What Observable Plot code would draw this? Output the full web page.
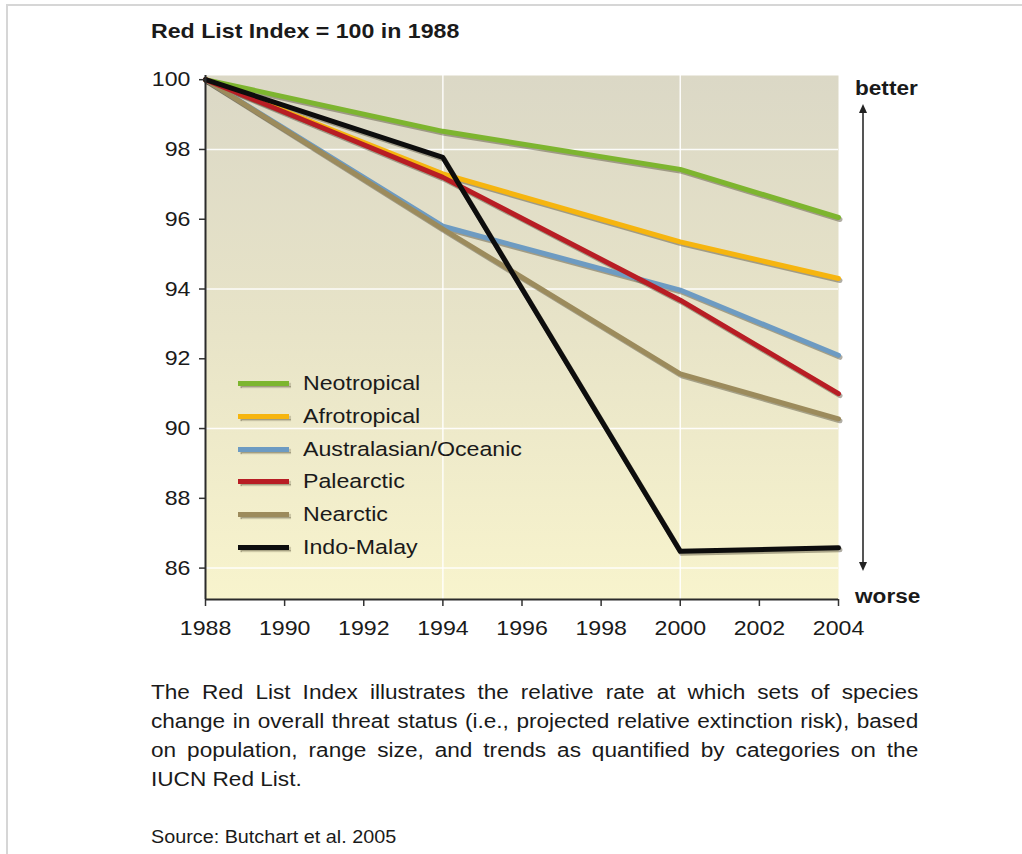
<!DOCTYPE html>
<html>
<head>
<meta charset="utf-8">
<script src="https://cdn.jsdelivr.net/npm/d3@7"></script>
<script src="https://cdn.jsdelivr.net/npm/@observablehq/plot@0.6"></script>
<style>
  body { margin: 0; background: #fff; font-family: "Liberation Sans", Arial, Helvetica, sans-serif; color: #1a1a1a; }
  #page { position: relative; width: 1022px; height: 854px; overflow: hidden; background: #fff; }
  #frame { position: absolute; left: 6px; top: 4px; right: -10px; bottom: -10px; border-left: 2px solid #d6d6d6; border-top: 2px solid #d6d6d6; }
  #chart { position: absolute; left: 0; top: 0; }
  .abs { position: absolute; white-space: nowrap; }
  .sx { display: inline-block; transform: scaleX(1.13); transform-origin: 0 50%; }
  #title { left: 151px; top: 21px; font-size: 20.5px; line-height: 20px; font-weight: bold; }
  .legrow { position: absolute; left: 238px; height: 20px; }
  .legsw { position: absolute; left: 0; top: 8px; width: 51px; height: 5px; box-shadow: 1.5px 2px 1px rgba(70,65,40,0.45); }
  .legtx { position: absolute; left: 65px; top: 0; font-size: 20.5px; line-height: 20px; white-space: nowrap; }
  .dir { font-size: 20px; line-height: 20px; font-weight: bold; }
  #arrowline { position: absolute; left: 862px; top: 110px; width: 1.5px; height: 456px; background: #555; }
  #ahup { position: absolute; left: 859px; top: 104px; width: 0; height: 0; border-left: 4px solid transparent; border-right: 4px solid transparent; border-bottom: 9px solid #222; }
  #ahdn { position: absolute; left: 859px; top: 562px; width: 0; height: 0; border-left: 4px solid transparent; border-right: 4px solid transparent; border-top: 9px solid #222; }
  #caption { position: absolute; left: 151px; top: 678px; width: 679px; transform: scaleX(1.13); transform-origin: 0 0; font-size: 20px; line-height: 29px; }
  #caption .j { text-align: justify; text-align-last: justify; }
  #source { left: 151px; top: 828px; font-size: 17.5px; line-height: 18px; }
</style>
</head>
<body>
<div id="page">
  <div id="frame"></div>
  <div id="chart"></div>
  <div id="title" class="abs"><span class="sx">Red List Index = 100 in 1988</span></div>
  <div id="legend"></div>
  <div class="abs dir" style="left:855px; top:78px;"><span class="sx">better</span></div>
  <div class="abs dir" style="left:855px; top:586px;"><span class="sx">worse</span></div>
  <div id="arrowline"></div>
  <div id="ahup"></div>
  <div id="ahdn"></div>
  <div id="caption">
    <div class="j">The Red List Index illustrates the relative rate at which sets of species</div>
    <div class="j">change in overall threat status (i.e., projected relative extinction risk), based</div>
    <div class="j">on population, range size, and trends as quantified by categories on the</div>
    <div>IUCN Red List.</div>
  </div>
  <div id="source" class="abs"><span class="sx">Source: Butchart et al. 2005</span></div>
</div>
<script>
// ---- data ----
const years = [1988, 1994, 2000, 2004];
const regions = ["Neotropical", "Afrotropical", "Australasian/Oceanic", "Palearctic", "Nearctic", "Indo-Malay"];
const colors = ["#7db52f", "#f6b50f", "#6d9bc2", "#b81d24", "#9c8b5c", "#0d0d0d"];
const neotropical = [100, 98.52, 97.43, 96.05];
const afrotropical = [100, 97.3, 95.35, 94.3];
const australasian = [100, 95.8, 93.97, 92.1];
const palearctic = [100, 97.2, 93.68, 91.0];
const nearctic = [100, 95.72, 91.57, 90.28];
const indoMalay = [100, 97.77, 86.48, 86.58];
const seriesValues = [neotropical, afrotropical, australasian, palearctic, nearctic, indoMalay];
const drawOrder = ["Neotropical", "Afrotropical", "Australasian/Oceanic", "Nearctic", "Palearctic", "Indo-Malay"];
const xTicks = [1988, 1990, 1992, 1994, 1996, 1998, 2000, 2002, 2004];
const yTicks = [86, 88, 90, 92, 94, 96, 98, 100];
const gridX = [1994, 2000];
const gridY = [98, 94, 90, 86];
const yDomain = [85.1, 100.12];
const xDomain = [1988, 2004];

const data = drawOrder.flatMap(r => {
  const i = regions.indexOf(r);
  return years.map((yr, j) => ({region: r, year: yr, value: seriesValues[i][j]}));
});

const chart = Plot.plot({
  width: 1022,
  height: 660,
  marginLeft: 205,
  marginRight: 184,
  marginTop: 75,
  marginBottom: 61,
  x: {domain: xDomain, label: null},
  y: {domain: yDomain, label: null},
  color: {domain: regions, range: colors},
  style: {fontFamily: '"Liberation Sans", Arial, sans-serif', fontSize: "20px", color: "#1a1a1a", background: "transparent", overflow: "visible"},
  marks: [
    Plot.frame({fill: "url(#bgGrad)", stroke: "none"}),
    Plot.ruleY(gridY, {stroke: "#ffffff", strokeWidth: 1.5, strokeOpacity: 0.9}),
    Plot.ruleX(gridX, {stroke: "#ffffff", strokeWidth: 1.5, strokeOpacity: 0.9}),
    Plot.lineY(data, {x: "year", y: "value", z: "region", stroke: "#4f4a35", strokeOpacity: 0.45, strokeWidth: 5, dx: 1.5, dy: 2, strokeLinejoin: "round"}),
    Plot.lineY(data, {x: "year", y: "value", z: "region", stroke: "region", strokeWidth: 5, strokeLinejoin: "round"}),
    Plot.axisY({ticks: yTicks, label: null, tickSize: 6, tickPadding: 9, stroke: "#333", strokeWidth: 1.5, fontSize: 20.5}),
    Plot.axisX({ticks: xTicks, label: null, tickSize: 7, tickPadding: 14, tickFormat: d => String(d), stroke: "#333", strokeWidth: 1.5, fontSize: 20.5}),
    Plot.ruleX([xDomain[0]], {stroke: "#2b2b2b", strokeWidth: 2}),
    Plot.ruleY([yDomain[0]], {stroke: "#2b2b2b", strokeWidth: 2})
  ]
});

// gradient background definition
const ns = "http://www.w3.org/2000/svg";
const defs = document.createElementNS(ns, "defs");
const grad = document.createElementNS(ns, "linearGradient");
grad.setAttribute("id", "bgGrad");
grad.setAttribute("x1", "0"); grad.setAttribute("y1", "0");
grad.setAttribute("x2", "0"); grad.setAttribute("y2", "1");
[["0", "#dbd8c6"], ["0.5", "#e8e4c8"], ["1", "#f8f4cd"]].forEach(([o, c]) => {
  const s = document.createElementNS(ns, "stop");
  s.setAttribute("offset", o); s.setAttribute("stop-color", c);
  grad.appendChild(s);
});
defs.appendChild(grad);
chart.insertBefore(defs, chart.firstChild);

// slightly widen tick label glyphs to match the reference's stretched type
chart.querySelectorAll('[aria-label="x-axis tick label"] text, [aria-label="y-axis tick label"] text').forEach(t => {
  const tr = t.getAttribute("transform");
  if (tr) t.setAttribute("transform", tr + " scale(1.13,1)");
});

document.getElementById("chart").appendChild(chart);

// legend (HTML overlay)
const legend = document.getElementById("legend");
regions.forEach((r, i) => {
  const row = document.createElement("div");
  row.className = "legrow";
  row.style.top = (373 + i * 32.8) + "px";
  const sw = document.createElement("div");
  sw.className = "legsw";
  sw.style.background = colors[i];
  const tx = document.createElement("div");
  tx.className = "legtx";
  tx.innerHTML = '<span class="sx"></span>';
  tx.firstChild.textContent = r;
  row.appendChild(sw);
  row.appendChild(tx);
  legend.appendChild(row);
});
</script>
</body>
</html>
